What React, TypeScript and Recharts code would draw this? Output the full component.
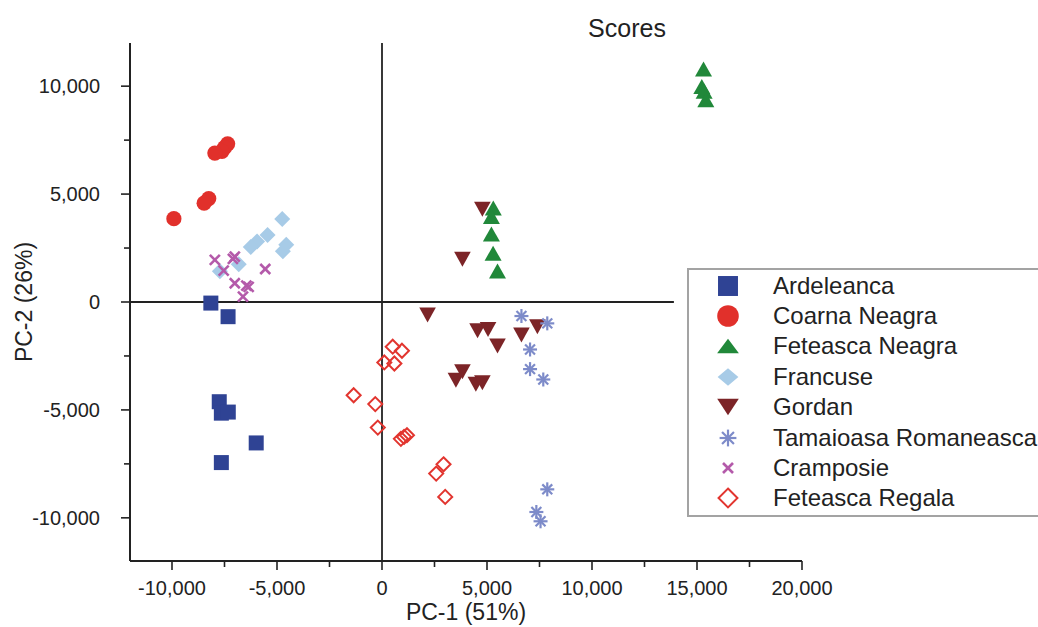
import { ScatterChart, Scatter, XAxis, YAxis, ReferenceLine, Label } from "recharts";

type Pt = { x: number; y: number };

const ardeleanca: Pt[] = [
  { x: -8150, y: -50 }, { x: -7330, y: -680 }, { x: -7750, y: -4620 },
  { x: -7650, y: -5150 }, { x: -7320, y: -5100 }, { x: -5990, y: -6530 },
  { x: -7650, y: -7440 },
];
const coarnaNeagra: Pt[] = [
  { x: -7350, y: 7330 }, { x: -7500, y: 7150 }, { x: -7620, y: 6980 },
  { x: -7960, y: 6900 }, { x: -8250, y: 4790 }, { x: -8470, y: 4580 },
  { x: -9910, y: 3860 },
];
const feteascaNeagra: Pt[] = [
  { x: 5300, y: 4350 }, { x: 5210, y: 3960 }, { x: 5210, y: 3150 },
  { x: 5290, y: 2260 }, { x: 5500, y: 1440 }, { x: 15310, y: 10800 },
  { x: 15230, y: 9990 }, { x: 15340, y: 9760 }, { x: 15420, y: 9370 },
];
const francuse: Pt[] = [
  { x: -4750, y: 3850 }, { x: -5450, y: 3100 }, { x: -5950, y: 2800 },
  { x: -6250, y: 2550 }, { x: -4560, y: 2650 }, { x: -4720, y: 2350 },
  { x: -6820, y: 1750 }, { x: -7720, y: 1430 },
];
const gordan: Pt[] = [
  { x: 4780, y: 4300 }, { x: 3830, y: 1980 }, { x: 2170, y: -600 },
  { x: 4550, y: -1330 }, { x: 5050, y: -1270 }, { x: 5500, y: -2040 },
  { x: 6640, y: -1530 }, { x: 7400, y: -1150 }, { x: 3830, y: -3230 },
  { x: 3520, y: -3620 }, { x: 4470, y: -3810 }, { x: 4780, y: -3740 },
];
const tamaioasa: Pt[] = [
  { x: 6640, y: -650 }, { x: 7870, y: -990 }, { x: 7050, y: -2200 },
  { x: 7050, y: -3110 }, { x: 7680, y: -3590 }, { x: 7870, y: -8680 },
  { x: 7350, y: -9730 }, { x: 7550, y: -10160 },
];
const cramposie: Pt[] = [
  { x: -7960, y: 1950 }, { x: -7540, y: 1450 }, { x: -7010, y: 2100 },
  { x: -7100, y: 2000 }, { x: -5560, y: 1530 }, { x: -7010, y: 870 },
  { x: -6460, y: 760 }, { x: -6350, y: 700 }, { x: -6620, y: 250 },
];
const feteascaRegala: Pt[] = [
  { x: 510, y: -2070 }, { x: 950, y: -2260 }, { x: 110, y: -2800 },
  { x: 590, y: -2850 }, { x: -1350, y: -4320 }, { x: -320, y: -4730 },
  { x: -200, y: -5820 }, { x: 900, y: -6340 }, { x: 1050, y: -6250 },
  { x: 1190, y: -6170 }, { x: 2930, y: -7520 }, { x: 2580, y: -7950 },
  { x: 3010, y: -9030 },
];

const xTicks = [-10000, -7500, -5000, -2500, 0, 2500, 5000, 7500, 10000, 12500, 15000, 17500, 20000];
const yTicks = [-10000, -7500, -5000, -2500, 0, 2500, 5000, 7500, 10000];

type Kind = "square" | "circle" | "triUp" | "diamond" | "triDown" | "asterisk" | "cross" | "openDiamond";

const series: { name: string; data: Pt[]; kind: Kind; color: string }[] = [
  { name: "Ardeleanca", data: ardeleanca, kind: "square", color: "#2f4394" },
  { name: "Coarna Neagra", data: coarnaNeagra, kind: "circle", color: "#e1302b" },
  { name: "Feteasca Neagra", data: feteascaNeagra, kind: "triUp", color: "#21883a" },
  { name: "Francuse", data: francuse, kind: "diamond", color: "#a7cbe7" },
  { name: "Gordan", data: gordan, kind: "triDown", color: "#7c2427" },
  { name: "Tamaioasa Romaneasca", data: tamaioasa, kind: "asterisk", color: "#7d8bc9" },
  { name: "Cramposie", data: cramposie, kind: "cross", color: "#b45aaa" },
  { name: "Feteasca Regala", data: feteascaRegala, kind: "openDiamond", color: "#e2352f" },
];

// plot draw order (green triangles sit over gordan, crosses over diamonds)
const drawOrder = [0, 1, 3, 4, 2, 5, 6, 7];

const FONT = '"Liberation Sans", Arial, sans-serif';
const INK = "#222";

function drawMarker(kind: Kind, color: string, cx: number, cy: number, s = 1, flat = 1) {
  switch (kind) {
    case "square": {
      const h = 7.5 * s;
      return <rect x={cx - h} y={cy - h} width={2 * h} height={2 * h} fill={color} />;
    }
    case "circle":
      return <circle cx={cx} cy={cy} r={7.6 * s} fill={color} />;
    case "triUp": {
      const w = 8.5 * s, h = 7.5 * s * flat;
      return <polygon points={`${cx},${cy - h} ${cx - w},${cy + h} ${cx + w},${cy + h}`} fill={color} />;
    }
    case "triDown": {
      const w = 8.3 * s, h = 7.5 * s * flat;
      return <polygon points={`${cx - w},${cy - h} ${cx + w},${cy - h} ${cx},${cy + h}`} fill={color} />;
    }
    case "diamond": {
      const r = 8 * s, v = r * flat;
      return <polygon points={`${cx},${cy - v} ${cx + r},${cy} ${cx},${cy + v} ${cx - r},${cy}`} fill={color} />;
    }
    case "openDiamond": {
      const r = 7 * s;
      return (
        <polygon
          points={`${cx},${cy - r} ${cx + r},${cy} ${cx},${cy + r} ${cx - r},${cy}`}
          fill="none"
          stroke={color}
          strokeWidth={2}
        />
      );
    }
    case "asterisk": {
      const r = 7 * s, d = r * 0.707;
      return (
        <g stroke={color} strokeWidth={2.2}>
          <line x1={cx - r} y1={cy} x2={cx + r} y2={cy} />
          <line x1={cx} y1={cy - r} x2={cx} y2={cy + r} />
          <line x1={cx - d} y1={cy - d} x2={cx + d} y2={cy + d} />
          <line x1={cx - d} y1={cy + d} x2={cx + d} y2={cy - d} />
        </g>
      );
    }
    case "cross": {
      const r = 5 * s;
      return (
        <g stroke={color} strokeWidth={2.6}>
          <line x1={cx - r} y1={cy - r} x2={cx + r} y2={cy + r} />
          <line x1={cx - r} y1={cy + r} x2={cx + r} y2={cy - r} />
        </g>
      );
    }
  }
}

const fmt = (v: number) => v.toLocaleString("en-US");

const XTick = (props: any) => {
  const { x, y, payload } = props;
  const major = payload.value % 5000 === 0;
  return (
    <g>
      <line x1={x} y1={y} x2={x} y2={y + (major ? 9 : 6)} stroke={INK} strokeWidth={1.6} />
      {major && (
        <text x={x} y={y + 34} textAnchor="middle" fontSize={20} fill={INK} fontFamily={FONT}>
          {fmt(payload.value)}
        </text>
      )}
    </g>
  );
};

const YTick = (props: any) => {
  const { x, y, payload } = props;
  const major = payload.value % 5000 === 0;
  return (
    <g>
      <line x1={x - (major ? 9 : 6)} y1={y} x2={x} y2={y} stroke={INK} strokeWidth={1.6} />
      {major && (
        <text x={x - 30} y={y + 7} textAnchor="end" fontSize={20} fill={INK} fontFamily={FONT}>
          {fmt(payload.value)}
        </text>
      )}
    </g>
  );
};

const legendScale: Record<Kind, number> = {
  square: 1.33, circle: 1.42, triUp: 1.28, diamond: 1.3, triDown: 1.3,
  asterisk: 1.2, cross: 1, openDiamond: 1.35,
};
const legendFlat: Record<Kind, number> = {
  square: 1, circle: 1, triUp: 0.75, diamond: 0.85, triDown: 0.85,
  asterisk: 1, cross: 1, openDiamond: 1,
};

export default function App() {
  return (
    <div
      style={{
        position: "absolute", left: 0, top: 0, width: 1038, height: 627,
        overflow: "hidden", background: "#fff", fontFamily: FONT,
      }}
    >
      <ScatterChart width={1038} height={627} margin={{ top: 43, right: 236, bottom: 0, left: 0 }}>
        <XAxis
          type="number"
          dataKey="x"
          domain={[-12000, 20000]}
          ticks={xTicks}
          tickSize={0}
          tickMargin={0}
          tick={<XTick />}
          height={66}
          axisLine={{ stroke: INK, strokeWidth: 2 }}
          tickLine={false}
          interval={0}
        >
          <Label value="PC-1 (51%)" position="insideBottom" offset={7} fontSize={23} fill={INK} fontFamily={FONT} />
        </XAxis>
        <YAxis
          type="number"
          dataKey="y"
          domain={[-12000, 12000]}
          ticks={yTicks}
          tickSize={0}
          tickMargin={0}
          tick={<YTick />}
          width={130}
          axisLine={{ stroke: INK, strokeWidth: 2 }}
          tickLine={false}
          interval={0}
        >
          <Label
            value="PC-2 (26%)"
            angle={-90}
            position="insideLeft"
            offset={24}
            fontSize={23}
            fill={INK}
            fontFamily={FONT}
            style={{ textAnchor: "middle" }}
          />
        </YAxis>
        <ReferenceLine x={0} stroke={INK} strokeWidth={1.8} />
        <ReferenceLine
          segment={[{ x: -12000, y: 0 }, { x: 13900, y: 0 }]}
          stroke={INK}
          strokeWidth={1.8}
        />
        {drawOrder.map((i) => {
          const s = series[i];
          return (
            <Scatter
              key={s.name}
              name={s.name}
              data={s.data}
              isAnimationActive={false}
              shape={(p: any) => drawMarker(s.kind, s.color, p.cx, p.cy)}
            />
          );
        })}
      </ScatterChart>

      <div
        style={{
          position: "absolute", left: 627, top: 28, transform: "translate(-50%, -50%)",
          fontSize: 25, lineHeight: 1, color: INK, whiteSpace: "nowrap",
        }}
      >
        Scores
      </div>

      <div
        style={{
          position: "absolute", left: 687, top: 268, width: 480, height: 249,
          border: "2px solid #a3a3a3", boxSizing: "border-box", background: "#fff",
        }}
      >
        {series.map((s, i) => (
          <div key={s.name} style={{ position: "absolute", left: 0, top: 0.5 + i * 30.4, height: 30, width: 460 }}>
            <svg width={30} height={30} style={{ position: "absolute", left: 24, top: 0 }}>
              {drawMarker(s.kind, s.color, 15, 15, legendScale[s.kind], legendFlat[s.kind])}
            </svg>
            <span
              style={{
                position: "absolute", left: 84, top: 0, fontSize: 24, lineHeight: "30px",
                color: INK, whiteSpace: "nowrap",
              }}
            >
              {s.name}
            </span>
          </div>
        ))}
      </div>
    </div>
  );
}
